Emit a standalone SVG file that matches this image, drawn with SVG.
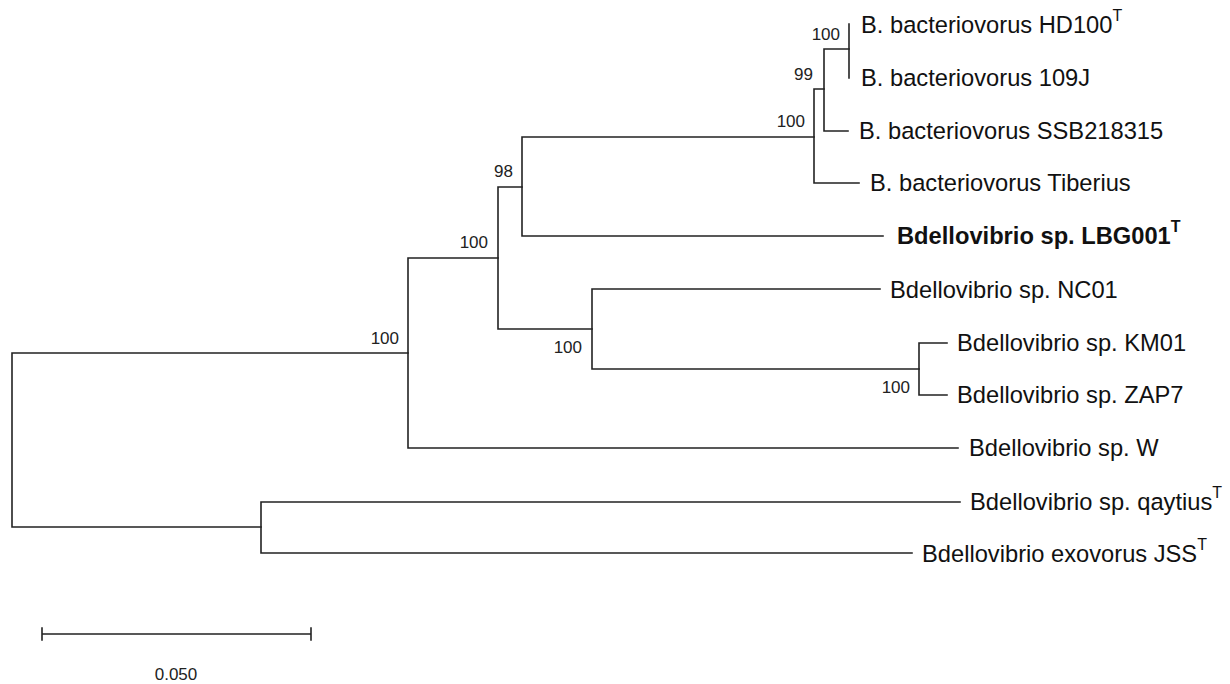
<svg xmlns="http://www.w3.org/2000/svg" width="1230" height="684" viewBox="0 0 1230 684">
  <style>
    .br { fill: none; stroke: #222; stroke-width: 1.6; stroke-linecap: square; }
    .tx { font-family: "Liberation Sans", Arial, sans-serif; font-size: 23.7px; fill: #111; }
    .bold { font-weight: bold; }
    .sup { font-size: 16px; }
    .bs { font-family: "Liberation Sans", Arial, sans-serif; font-size: 17px; fill: #222; text-anchor: end; }
    .sc { font-family: "Liberation Sans", Arial, sans-serif; font-size: 17px; fill: #222; }
  </style>
  <rect width="1230" height="684" fill="#fff"/>

  <!-- tree branches -->
  <g id="connectors">
    <!-- root -->
    <path class="br" d="M408,353 H12 V527 H261"/>
    <!-- outgroup clade -->
    <path class="br" d="M960,502 H261 V553 H912"/>
    <!-- main clade -->
    <path class="br" d="M498,258 H408 V448 H958"/>
    <path class="br" d="M522,187 H498 V329 H592"/>
    <path class="br" d="M814,137 H522 V236 H883"/>
    <path class="br" d="M824,89 H814 V183 H859"/>
    <path class="br" d="M849,49 H824 V131 H848"/>
    <path class="br" d="M849,24 V78"/>
    <path class="br" d="M880,289 H592 V369 H919"/>
    <path class="br" d="M947,343 H919 V395 H947"/>
  </g>

  <!-- bootstrap values -->
  <g id="support">
    <text class="bs" x="840" y="40">100</text>
    <text class="bs" x="813" y="80">99</text>
    <text class="bs" x="805" y="127">100</text>
    <text class="bs" x="513" y="177">98</text>
    <text class="bs" x="488" y="248">100</text>
    <text class="bs" x="399" y="344">100</text>
    <text class="bs" x="582" y="353">100</text>
    <text class="bs" x="910" y="393">100</text>
  </g>

  <!-- taxa -->
  <g id="taxon-hd100"><text class="tx" x="861" y="33">B. bacteriovorus HD100<tspan class="sup" dy="-12">T</tspan></text></g>
  <g id="taxon-109j"><text class="tx" x="861" y="86">B. bacteriovorus 109J</text></g>
  <g id="taxon-ssb218315"><text class="tx" x="859" y="139">B. bacteriovorus SSB218315</text></g>
  <g id="taxon-tiberius"><text class="tx" x="870" y="191">B. bacteriovorus Tiberius</text></g>
  <g id="taxon-lbg001"><text class="tx bold" x="897" y="244">Bdellovibrio sp. LBG001<tspan class="sup" dy="-12">T</tspan></text></g>
  <g id="taxon-nc01"><text class="tx" x="890" y="298">Bdellovibrio sp. NC01</text></g>
  <g id="taxon-km01"><text class="tx" x="957" y="351">Bdellovibrio sp. KM01</text></g>
  <g id="taxon-zap7"><text class="tx" x="957" y="403">Bdellovibrio sp. ZAP7</text></g>
  <g id="taxon-w"><text class="tx" x="969" y="456">Bdellovibrio sp. W</text></g>
  <g id="taxon-qaytius"><text class="tx" x="970" y="510">Bdellovibrio sp. qaytius<tspan class="sup" dy="-12">T</tspan></text></g>
  <g id="taxon-jss"><text class="tx" x="922" y="562">Bdellovibrio exovorus JSS<tspan class="sup" dy="-12">T</tspan></text></g>

  <!-- scale bar -->
  <g id="scale-bar">
    <path class="br" d="M42,634 H311 M42,628 V640 M311,628 V640"/>
    <text class="sc" x="176" y="680" text-anchor="middle">0.050</text>
  </g>
</svg>
